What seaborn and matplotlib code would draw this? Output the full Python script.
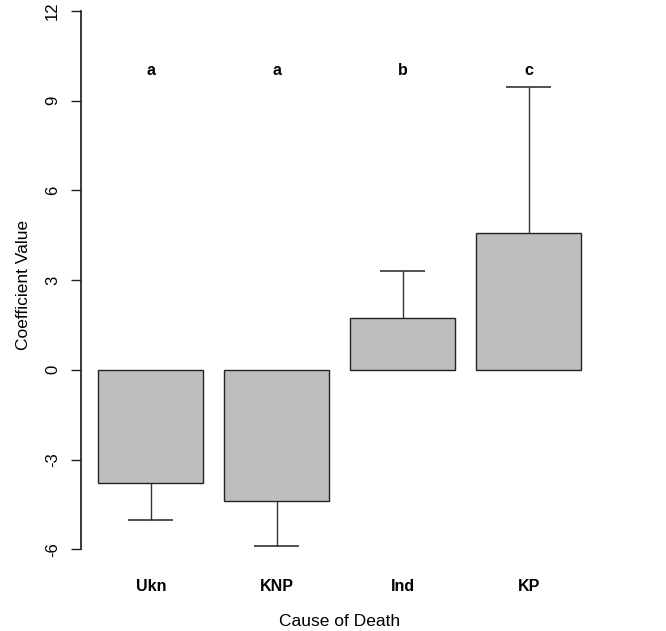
import matplotlib
matplotlib.use("Agg")
import matplotlib.pyplot as plt
import seaborn as sns
import numpy as np
import pandas as pd

# values
causes = ["Ukn", "KNP", "Ind", "KP"]
coef = [-3.77, -4.39, 1.72, 4.57]
err_end = [-5.03, -5.89, 3.29, 9.45]
groups = ["a", "a", "b", "c"]
yticks = [-6, -3, 0, 3, 6, 9, 12]

sns.set_theme(style="ticks")
plt.rcParams["font.family"] = ["Liberation Sans", "DejaVu Sans"]
plt.rcParams["text.color"] = "black"
plt.rcParams["axes.labelcolor"] = "black"
plt.rcParams["xtick.color"] = "black"
plt.rcParams["ytick.color"] = "black"

df = pd.DataFrame({"cause": causes, "coef": coef})

fig = plt.figure(figsize=(6.66, 6.31), dpi=100)
ax = fig.add_axes([0.1216, 0.0954, 0.777, 0.9046])

sns.barplot(data=df, x="cause", y="coef", color="#bebebe", saturation=1,
            width=0.833, edgecolor="#222222", linewidth=1, errorbar=None, ax=ax)

pos = np.arange(len(causes))
# one-sided error bars with caps
ax.vlines(pos, coef, err_end, color="#333333", lw=1)
ax.errorbar(pos, err_end, xerr=0.18, fmt="none", ecolor="#333333",
            elinewidth=1.2, capsize=0)

for x, g in zip(pos, groups):
    ax.text(x, 10, g, ha="center", va="center", fontsize=11.5, fontweight="bold")

ax.set_xlim(-0.554, 3.554)
ax.set_ylim(-6.72, 12.36)
ax.set_yticks(yticks)
ax.set_yticklabels([str(t) for t in yticks], rotation=90, va="center", fontsize=12)
ax.tick_params(axis="y", length=7, width=1, color="#222222", pad=8)
ax.tick_params(axis="x", length=0, pad=6)
for lab in ax.get_xticklabels():
    lab.set_fontweight("bold")
    lab.set_fontsize(11.5)

sns.despine(ax=ax, bottom=True)
ax.spines["left"].set_bounds(-6, 12)
ax.spines["left"].set_color("#222222")

ax.set_xlabel("Cause of Death", fontsize=12.5, labelpad=14)
ax.set_ylabel("Coefficient Value", fontsize=12.5, labelpad=10)

fig.savefig("out.png", dpi=100)
